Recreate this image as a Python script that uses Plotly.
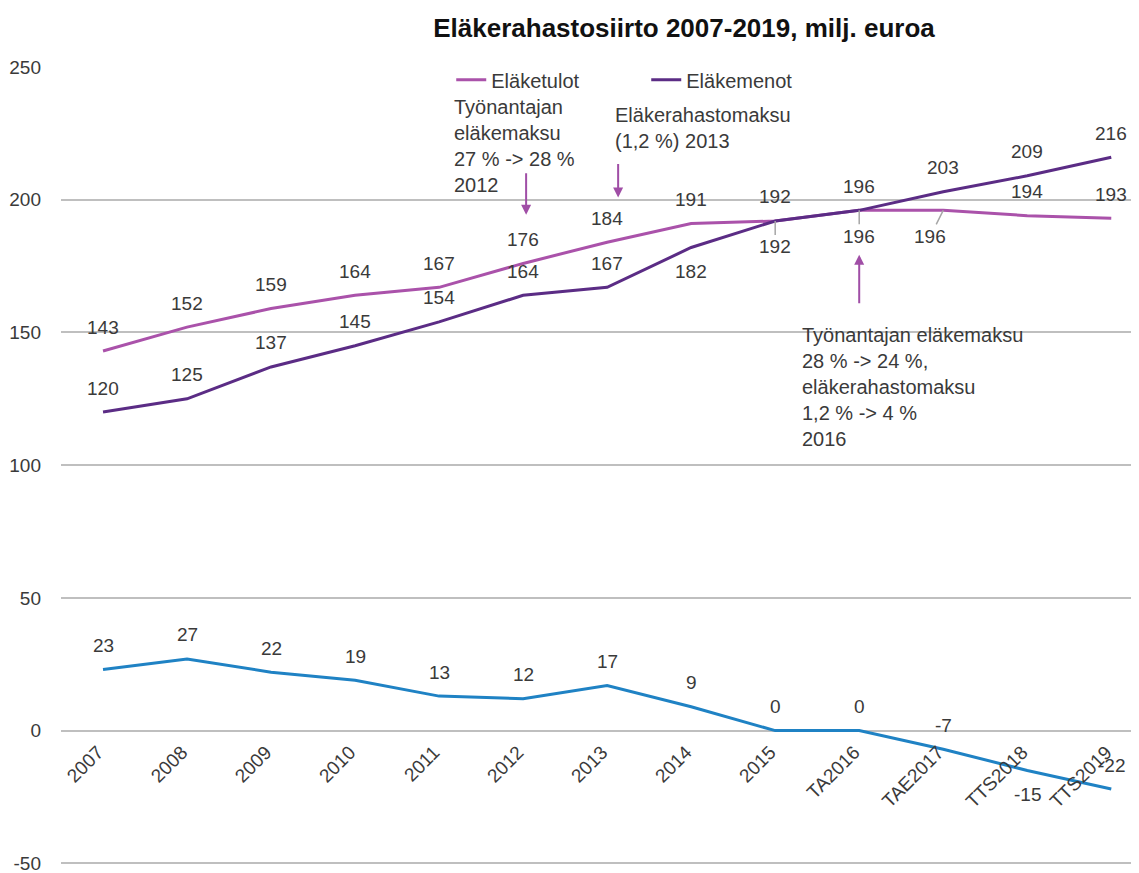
import plotly.graph_objects as go

categories = ["2007", "2008", "2009", "2010", "2011", "2012", "2013", "2014",
              "2015", "TA2016", "TAE2017", "TTS2018", "TTS2019"]
elaketulot = [143, 152, 159, 164, 167, 176, 184, 191, 192, 196, 196, 194, 193]
elakemenot = [120, 125, 137, 145, 154, 164, 167, 182, 192, 196, 203, 209, 216]
rahastosiirto = [23, 27, 22, 19, 13, 12, 17, 9, 0, 0, -7, -15, -22]

y_ticks = [-50, 0, 50, 100, 150, 200, 250]
y_tick_text = ["-50", "0", "50", "100", "150", "200", "250"]

# label side per point: 1 = above, -1 = below
tulot_side = [1, 1, 1, 1, 1, 1, 1, 1, 1, 1, -1, 1, 1]
menot_side = [1, 1, 1, 1, 1, 1, 1, -1, -1, -1, 1, 1, 1]
siirto_side = [1, 1, 1, 1, 1, 1, 1, 1, 1, 1, 1, -1, 1]

C_TULOT = "#aa52aa"
C_MENOT = "#5b2c85"
C_SIIRTO = "#1f82c4"
C_ARROW = "#a04ea6"
C_TEXT = "#3a3a3a"
FONT = "Liberation Sans, Arial, sans-serif"
LBL = 19

fig = go.Figure()
fig.add_trace(go.Scatter(x=categories, y=elaketulot, mode="lines", name="Eläketulot",
                         line=dict(color=C_TULOT, width=3)))
fig.add_trace(go.Scatter(x=categories, y=elakemenot, mode="lines", name="Eläkemenot",
                         line=dict(color=C_MENOT, width=3)))
fig.add_trace(go.Scatter(x=categories, y=rahastosiirto, mode="lines", name="Siirto",
                         showlegend=False, line=dict(color=C_SIIRTO, width=3)))

annotations = []
# leader lines: (series index, point index) -> x offset px
leaders = {(0, 10): -13, (1, 8): 0, (1, 9): 0}

for si, (vals, sides) in enumerate([(elaketulot, tulot_side), (elakemenot, menot_side),
                                     (rahastosiirto, siirto_side)]):
    for i, (v, s) in enumerate(zip(vals, sides)):
        if (si, i) in leaders:
            annotations.append(dict(x=i, y=v, text=str(v), showarrow=True,
                                    ax=leaders[(si, i)], ay=26, arrowhead=0,
                                    arrowwidth=1.5, arrowcolor="#a6a6a6",
                                    font=dict(size=LBL, color=C_TEXT, family=FONT)))
        else:
            annotations.append(dict(x=i, y=v, text=str(v), showarrow=False,
                                    yshift=24 * s,
                                    font=dict(size=LBL, color=C_TEXT, family=FONT)))

# note texts
annotations.append(dict(x=4.155, y=240, xref="x", yref="y", xanchor="left", yanchor="top",
                        align="left", showarrow=False,
                        text="Työnantajan<br>eläkemaksu<br>27 % -> 28 %<br>2012",
                        font=dict(size=20, color=C_TEXT, family=FONT)))
annotations.append(dict(x=6.065, y=237, xref="x", yref="y", xanchor="left", yanchor="top",
                        align="left", showarrow=False,
                        text="Eläkerahastomaksu<br>(1,2 %) 2013",
                        font=dict(size=20, color=C_TEXT, family=FONT)))
annotations.append(dict(x=8.295, y=154, xref="x", yref="y", xanchor="left", yanchor="top",
                        align="left", showarrow=False,
                        text="Työnantajan eläkemaksu<br>28 % -> 24 %,<br>eläkerahastomaksu<br>1,2 % -> 4 %<br>2016",
                        font=dict(size=20, color=C_TEXT, family=FONT)))
# arrows
annotations.append(dict(x=5, y=194.3, text="", showarrow=True, ax=0, ay=-43,
                        xshift=3, arrowhead=2, arrowsize=1, arrowwidth=2, arrowcolor=C_ARROW))
annotations.append(dict(x=6, y=200.8, text="", showarrow=True, ax=0, ay=-35,
                        xshift=11, arrowhead=2, arrowsize=1, arrowwidth=2, arrowcolor=C_ARROW))
annotations.append(dict(x=9, y=179.3, text="", showarrow=True, ax=0, ay=50,
                        arrowhead=2, arrowsize=1, arrowwidth=2, arrowcolor=C_ARROW))

fig.update_layout(
    width=1131, height=865,
    margin=dict(l=53, r=0, t=59, b=7),
    paper_bgcolor="white", plot_bgcolor="white",
    font=dict(family=FONT, size=19, color=C_TEXT),
    title=dict(text="<b>Eläkerahastosiirto 2007-2019, milj. euroa</b>",
               x=0.5977, xanchor="center", xref="container",
               y=0.977, yanchor="middle", yref="container",
               font=dict(size=26, color="#111111", family=FONT)),
    legend=dict(orientation="h", x=0.362, xanchor="left", y=0.984, yanchor="middle",
                font=dict(size=20, color=C_TEXT, family=FONT),
                bgcolor="rgba(0,0,0,0)", entrywidth=150, entrywidthmode="pixels",
                itemwidth=30),
    xaxis=dict(type="category", categoryorder="array", categoryarray=categories,
               range=[-0.5, 12.33], showgrid=False, zeroline=False, showline=False,
               ticks="", tickangle=-45, anchor="free", position=1 / 301 * 51,
               ticklabelstandoff=6, ticklabelshift=-5,
               tickfont=dict(size=19, color=C_TEXT, family=FONT)),
    yaxis=dict(range=[-51, 250], tickvals=y_ticks, ticktext=y_tick_text,
               showgrid=True, gridcolor="#bfbfbf",
               gridwidth=2, zeroline=False, showline=False, ticks="",
               ticklabelstandoff=19, ticklabeloverflow="allow",
               tickfont=dict(size=19, color=C_TEXT, family=FONT)),
    annotations=annotations,
)

fig.write_html("out.html")
